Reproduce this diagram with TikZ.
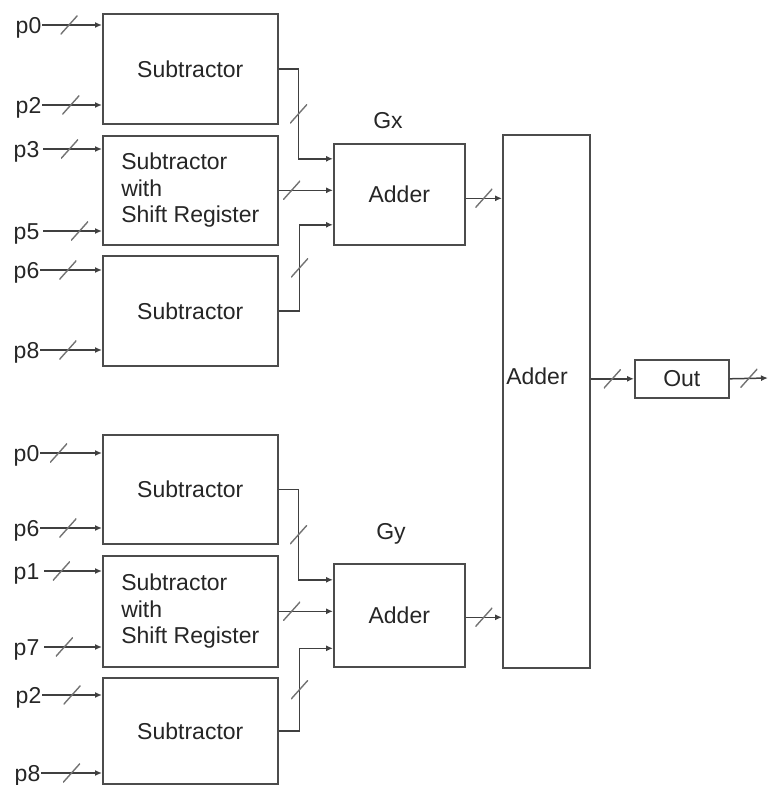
\documentclass[tikz,border=0pt]{standalone}
\usepackage{fontspec}
\setmainfont{Liberation Sans}
\usetikzlibrary{arrows.meta,calc}
\begin{document}
\begin{tikzpicture}[x=1pt,y=-1pt,
  blk/.style={draw=black!70, line width=1.6pt, inner sep=0, anchor=north west, align=left,
    font=\fontsize{23}{26.5}\selectfont, text=black!85, fill=white},
  lbl/.style={inner sep=0.5pt, anchor=base east, font=\fontsize{23}{26}\selectfont, text=black!85},
  txt/.style={inner sep=0, font=\fontsize{23}{26}\selectfont, text=black!85},
  bus/.style={draw=black!75, line width=1.5pt, -{Latex[length=7pt,width=6pt]}},
  busmark/.style={draw=none, inner sep=0, minimum width=17pt, minimum height=19pt,
    path picture={\draw[-, black!55, line width=1.4pt] (path picture bounding box.south west) -- (path picture bounding box.north east);}}
]
\useasboundingbox (0,0) rectangle (769,785);

% ---------- top group ----------
\node[blk, minimum width=175pt, minimum height=110pt] (s1) at (102,13) {Subtractor};
\node[blk, minimum width=175pt, minimum height=109pt] (s2) at (102,135) {Subtractor\\with\\Shift Register};
\node[blk, minimum width=175pt, minimum height=110pt] (s3) at (102,255) {Subtractor};
\node[blk, minimum width=131pt, minimum height=101pt] (gx) at (333,143) {Adder};
\node[txt] (gxl) at (388,121) {Gx};

% labels: baseline 8px below their line
\node[lbl] (t0) at (42,33) {p0};
\node[lbl] (t2) at (42,113) {p2};
\node[lbl] (t3) at (40,157) {p3};
\node[lbl] (t5) at (40,239) {p5};
\node[lbl] (t6) at (40,278) {p6};
\node[lbl] (t8) at (40,358) {p8};

\draw[bus] ([yshift=8pt]t0.base east) -- node[busmark,pos=.45]{} ([yshift=8pt]t0.base east -| s1.west);
\draw[bus] ([yshift=8pt]t2.base east) -- node[busmark,pos=.48]{} ([yshift=8pt]t2.base east -| s1.west);
\draw[bus] ([shift={(3pt,8pt)}]t3.base east) -- node[busmark,pos=.45]{} ([yshift=8pt]t3.base east -| s2.west);
\draw[bus] ([shift={(3pt,8pt)}]t5.base east) -- node[busmark,pos=.62]{} ([yshift=8pt]t5.base east -| s2.west);
\draw[bus] ([yshift=8pt]t6.base east) -- node[busmark,pos=.45]{} ([yshift=8pt]t6.base east -| s3.west);
\draw[bus] ([yshift=8pt]t8.base east) -- node[busmark,pos=.45]{} ([yshift=8pt]t8.base east -| s3.west);

\draw[bus] (s1.east) -- ++(20,0) |- node[busmark,pos=.25]{} ($(gx.west)+(0,-35.5)$);
\draw[bus] (s2.east) -- node[busmark,pos=.24]{} (s2.east -| gx.west);
\draw[bus] (s3.east) -- ++(21,0) |- node[busmark,pos=.25]{} ($(gx.west)+(0,30.5)$);

% ---------- bottom group ----------
\node[blk, minimum width=175pt, minimum height=109pt] (s4) at (102,434) {Subtractor};
\node[blk, minimum width=175pt, minimum height=111pt] (s5) at (102,555) {Subtractor\\with\\Shift Register};
\node[blk, minimum width=175pt, minimum height=106pt] (s6) at (102,677) {Subtractor};
\node[blk, minimum width=131pt, minimum height=103pt] (gy) at (333,563) {Adder};
\node[txt] (gyl) at (391,534) {Gy};

\node[lbl] (b0) at (40,461) {p0};
\node[lbl] (b6) at (40,536) {p6};
\node[lbl] (b1) at (40,579) {p1};
\node[lbl] (b7) at (40,655) {p7};
\node[lbl] (b2) at (42,703) {p2};
\node[lbl] (b8) at (41,781) {p8};

\draw[bus] ([yshift=8pt]b0.base east) -- node[busmark,pos=.3]{} ([yshift=8pt]b0.base east -| s4.west);
\draw[bus] ([yshift=8pt]b6.base east) -- node[busmark,pos=.45]{} ([yshift=8pt]b6.base east -| s4.west);
\draw[bus] ([shift={(4pt,8pt)}]b1.base east) -- node[busmark,pos=.3]{} ([yshift=8pt]b1.base east -| s5.west);
\draw[bus] ([shift={(4pt,8pt)}]b7.base east) -- node[busmark,pos=.35]{} ([yshift=8pt]b7.base east -| s5.west);
\draw[bus] ([yshift=8pt]b2.base east) -- node[busmark,pos=.5]{} ([yshift=8pt]b2.base east -| s6.west);
\draw[bus] ([yshift=8pt]b8.base east) -- node[busmark,pos=.5]{} ([yshift=8pt]b8.base east -| s6.west);

\draw[bus] (s4.east) -- ++(20,0) |- node[busmark,pos=.25]{} ($(gy.west)+(0,-35.5)$);
\draw[bus] (s5.east) -- node[busmark,pos=.24]{} (s5.east -| gy.west);
\draw[bus] (s6.east) -- ++(21,0) |- node[busmark,pos=.25]{} ($(gy.west)+(0,33)$);

% ---------- final adder ----------
\node[blk, minimum width=87pt, minimum height=533pt] (big) at (502,134) {};
\node[txt] (bigl) at (537,376) {Adder};
\node[blk, minimum width=94pt, minimum height=38pt, align=center] (out) at (634,359) {Out};
\coordinate (end) at (768,378);
\coordinate (gxo) at ([yshift=-4pt]gx.east);
\coordinate (gyo) at ([yshift=-2pt]gy.east);

\draw[bus] (gxo) -- node[busmark,pos=.5]{} (gxo -| big.west);
\draw[bus] (gyo) -- node[busmark,pos=.5]{} (gyo -| big.west);
\draw[bus] (out.west -| big.east) -- node[busmark,pos=.5]{} (out.west);
\draw[bus] (out.east) -- node[busmark,pos=.5]{} (end);
\end{tikzpicture}
\end{document}
